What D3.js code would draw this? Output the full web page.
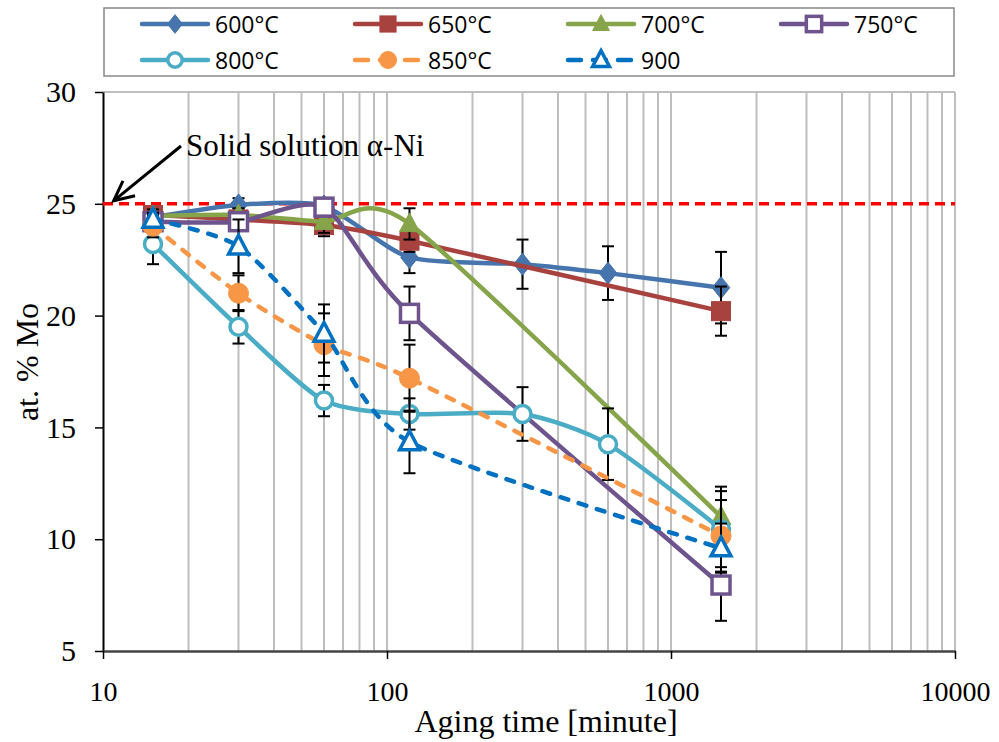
<!DOCTYPE html>
<html>
<head>
<meta charset="utf-8">
<script src="https://cdn.jsdelivr.net/npm/d3@7"></script>
<style>
  body { margin: 0; background: #fff; }
  svg text { fill: #000; }
</style>
</head>
<body>
<svg id="chart" width="999" height="742"></svg>
<script>
// aging times (minute)
const times5 = [15, 30, 60, 120, 1500];
const times7 = [15, 30, 60, 120, 300, 600, 1500];

// at.% Mo per series
const mo600 = [24.4, 24.95, 24.9, 22.6, 22.3, 21.9, 21.25];
const mo650 = [24.5, 24.3, 24.05, 23.35, 20.2];
const mo700 = [24.45, 24.5, 24.2, 24.1, 11.0];
const mo750 = [24.2, 24.2, 24.85, 20.1, 7.95];
const mo800 = [23.2, 19.5, 16.2, 15.6, 15.6, 14.25, 10.45];
const mo850 = [24.0, 21.0, 18.7, 17.2, 10.15];
const mo900 = [24.3, 23.1, 19.2, 14.35, 9.6];

// error bar half widths
const err600 = [0.3, 0.3, 0.3, 0.7, 1.1, 1.2, 1.6];
const err650 = [0.3, 0.3, 0.5, 0.5, 1.1];
const err700 = [0.3, 0.3, 0.5, 0.7, 1.35];
const err750 = [0.3, 0.3, 0.3, 1.2, 1.6];
const err800 = [0.9, 0.75, 0.7, 0.7, 1.2, 1.6, 1.7];
const err850 = [0.5, 0.8, 1.4, 1.5, 1.6];
const err900 = [0.3, 1.2, 1.3, 1.4, 1.1];

const seriesNames = ["600°C", "650°C", "700°C", "750°C", "800°C", "850°C", "900"];
const xTicks = [10, 100, 1000, 10000];
const yTicks = [5, 10, 15, 20, 25, 30];
const solidLimit = 25;

const series = [
  { name: seriesNames[0], t: times7, v: mo600, e: err600, color: "#4674AC", marker: "diamond", fill: true, dash: null },
  { name: seriesNames[1], t: times5, v: mo650, e: err650, color: "#A8423F", marker: "square", fill: true, dash: null },
  { name: seriesNames[2], t: times5, v: mo700, e: err700, color: "#86A44A", marker: "triangle", fill: true, dash: null },
  { name: seriesNames[3], t: times5, v: mo750, e: err750, color: "#6E548D", marker: "square", fill: false, dash: null },
  { name: seriesNames[4], t: times7, v: mo800, e: err800, color: "#4BACC6", marker: "circle", fill: false, dash: null },
  { name: seriesNames[5], t: times5, v: mo850, e: err850, color: "#F79646", marker: "circle", fill: true, dash: "8,11" },
  { name: seriesNames[6], t: times5, v: mo900, e: err900, color: "#0070C0", marker: "triangle", fill: false, dash: "8,11" }
];

const serif = "Liberation Serif, Times New Roman, serif";
const svg = d3.select("#chart");
const pLeft = 103, pRight = 955, pTop = 92, pBottom = 651;

const x = d3.scaleLog().domain([10, 10000]).range([pLeft, pRight]);
const y = d3.scaleLinear().domain([5, 30]).range([pBottom, pTop]);

// vertical gridlines (minor + major)
const grid = [];
for (let d = 10; d < 10000; d *= 10) {
  for (let k = 1; k <= 9; k++) if (d * k > 10) grid.push(d * k);
}
grid.push(10000);
svg.append("g")
  .selectAll("line")
  .data(grid)
  .join("line")
  .attr("x1", d => x(d)).attr("x2", d => x(d))
  .attr("y1", pTop).attr("y2", pBottom)
  .attr("stroke", "#BEBEBE")
  .attr("stroke-width", 2);

// top border
svg.append("line")
  .attr("x1", pLeft).attr("x2", pRight)
  .attr("y1", pTop).attr("y2", pTop)
  .attr("stroke", "#BEBEBE").attr("stroke-width", 2);

// axes
const yAxis = svg.append("g")
  .attr("transform", `translate(${pLeft},0)`)
  .call(d3.axisLeft(y).tickValues(yTicks).tickSize(8).tickPadding(19).tickSizeOuter(0));
yAxis.select(".domain").attr("stroke", "#000").attr("stroke-width", 2);
yAxis.selectAll(".tick line").attr("stroke", "#000").attr("stroke-width", 1.5);
yAxis.selectAll("text")
  .attr("font-family", serif)
  .attr("font-size", 30);

const xAxis = svg.append("g")
  .attr("transform", `translate(0,${pBottom})`)
  .call(d3.axisBottom(x).tickValues(xTicks).tickFormat(d3.format("d")).tickSize(8).tickPadding(22).tickSizeOuter(0));
xAxis.select(".domain").attr("stroke", "#444").attr("stroke-width", 2.5);
xAxis.selectAll(".tick line").attr("stroke", "#000").attr("stroke-width", 1.5);
xAxis.selectAll("text")
  .attr("font-family", serif)
  .attr("font-size", 28);

// axis titles
svg.append("text")
  .attr("x", 546).attr("y", 732)
  .attr("text-anchor", "middle")
  .attr("font-family", serif)
  .attr("font-size", 32)
  .text("Aging time [minute]");
svg.append("text")
  .attr("transform", `translate(38,362) rotate(-90)`)
  .attr("text-anchor", "middle")
  .attr("font-family", serif)
  .attr("font-size", 32)
  .text("at. % Mo");

// solid solution limit
svg.append("line")
  .attr("x1", pLeft).attr("x2", pRight)
  .attr("y1", y(solidLimit)).attr("y2", y(solidLimit))
  .attr("stroke", "#FF0000").attr("stroke-width", 3.5)
  .attr("stroke-dasharray", "10,6");

// annotation arrow
(function () {
  const sx = 181, sy = 146;
  const tx = x(10.9), ty = y(solidLimit) - 3;
  svg.append("path")
    .attr("d", `M${sx},${sy} L${tx},${ty}`)
    .attr("stroke", "#000").attr("stroke-width", 3)
    .attr("fill", "none");
  const ang = Math.atan2(ty - sy, tx - sx);
  const len = 22, spread = 0.45;
  const p1 = [tx - len * Math.cos(ang - spread), ty - len * Math.sin(ang - spread)];
  const p2 = [tx - len * Math.cos(ang + spread), ty - len * Math.sin(ang + spread)];
  svg.append("path")
    .attr("d", `M${p1[0]},${p1[1]} L${tx},${ty} L${p2[0]},${p2[1]}`)
    .attr("stroke", "#000").attr("stroke-width", 3).attr("fill", "none");
})();
svg.append("text")
  .attr("x", 186).attr("y", 156)
  .attr("font-family", serif)
  .attr("font-size", 31)
  .text("Solid solution α-Ni");

// marker drawing
function drawMarker(g, s, cx, cy, scale) {
  const k = scale || 1;
  let el;
  if (s.marker === "diamond") {
    const r = 11 * k;
    el = g.append("path").attr("d", `M${cx},${cy - r} L${cx + r * 0.8},${cy} L${cx},${cy + r} L${cx - r * 0.8},${cy} Z`);
  } else if (s.marker === "square") {
    const h = (s.fill ? 9.5 : 9) * k;
    el = g.append("rect").attr("x", cx - h).attr("y", cy - h).attr("width", 2 * h).attr("height", 2 * h);
  } else if (s.marker === "triangle") {
    const h = 11 * k;
    el = g.append("path").attr("d", `M${cx},${cy - h} L${cx + h * 0.9},${cy + h * 0.7} L${cx - h * 0.9},${cy + h * 0.7} Z`);
  } else {
    el = g.append("circle").attr("cx", cx).attr("cy", cy).attr("r", (s.fill ? 10 : 8.5) * k);
  }
  if (s.fill) el.attr("fill", s.color).attr("stroke", s.color).attr("stroke-width", 1);
  else el.attr("fill", "#fff").attr("stroke", s.color).attr("stroke-width", 3.5);
}

const line = d3.line()
  .x(d => x(d[0]))
  .y(d => y(d[1]))
  .curve(d3.curveCardinal.tension(0.3));

const plot = svg.append("g");
series.forEach(s => {
  const pts = s.t.map((t, i) => [t, s.v[i], s.e[i]]);
  plot.append("path")
    .datum(pts)
    .attr("d", line)
    .attr("fill", "none")
    .attr("stroke", s.color)
    .attr("stroke-width", 4.5)
    .attr("stroke-linecap", s.dash ? "round" : "butt")
    .attr("stroke-dasharray", s.dash);
  const eb = plot.append("g").attr("stroke", "#000").attr("stroke-width", 2);
  pts.forEach(p => {
    const cx = x(p[0]);
    eb.append("line").attr("x1", cx).attr("x2", cx).attr("y1", y(p[1] - p[2])).attr("y2", y(p[1] + p[2]));
    [p[1] - p[2], p[1] + p[2]].forEach(v => {
      eb.append("line").attr("x1", cx - 6).attr("x2", cx + 6).attr("y1", y(v)).attr("y2", y(v));
    });
  });
  const mk = plot.append("g");
  pts.forEach(p => drawMarker(mk, s, x(p[0]), y(p[1])));
});

// legend
svg.append("rect")
  .attr("x", 104).attr("y", 8)
  .attr("width", 850).attr("height", 68)
  .attr("fill", "#fff")
  .attr("stroke", "#888").attr("stroke-width", 1.5);
const colX = [140, 353, 566, 779];
const rowY = [24, 60];
series.forEach((s, i) => {
  const gx = colX[i % 4], gy = rowY[Math.floor(i / 4)];
  const g = svg.append("g");
  g.append("line")
    .attr("x1", gx + 2).attr("x2", gx + 68)
    .attr("y1", gy).attr("y2", gy)
    .attr("stroke", s.color).attr("stroke-width", 4.5)
    .attr("stroke-linecap", "round")
    .attr("stroke-dasharray", s.dash ? "13,12" : null);
  drawMarker(g, s, gx + 35, gy, 0.85);
  g.append("text")
    .attr("x", gx + 75).attr("y", gy + 9)
    .attr("font-family", "Open Sans, Noto Sans, sans-serif")
    .attr("font-size", 23)
    .text(s.name);
});
</script>
</body>
</html>
